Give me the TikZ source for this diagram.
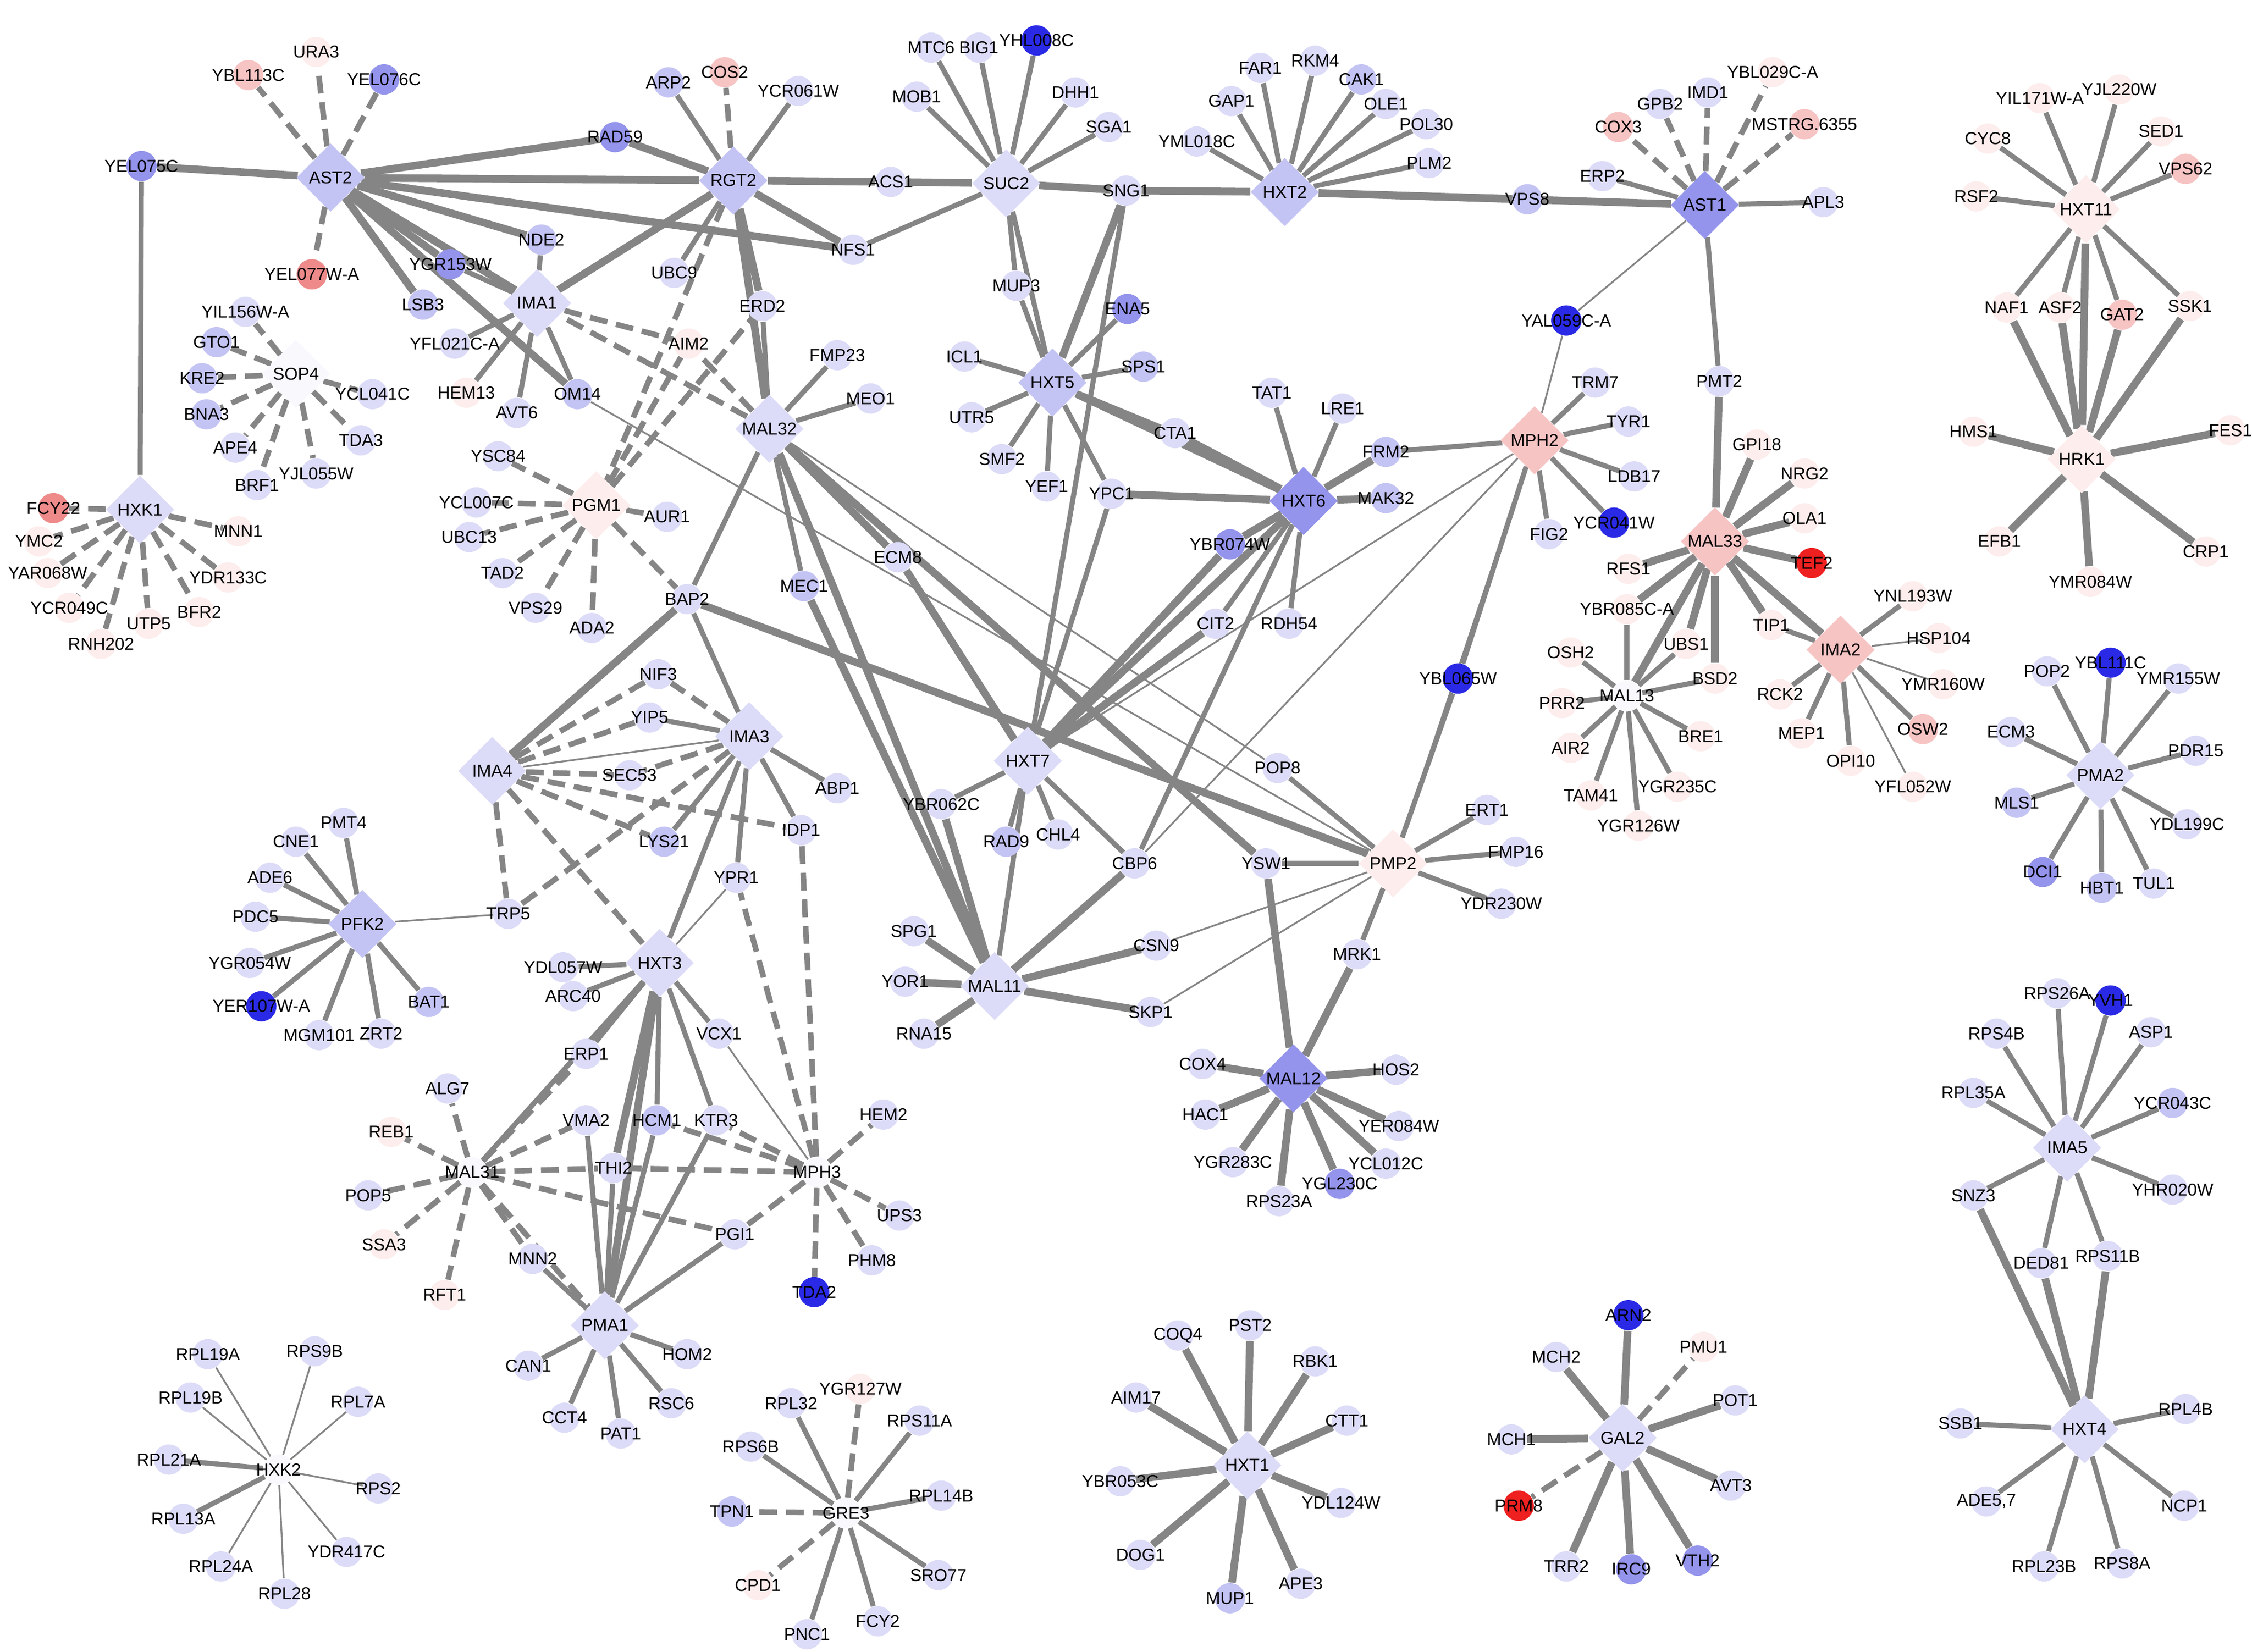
\documentclass[tikz,border=0pt]{standalone}
\usepackage{fontspec}
\setmainfont{Liberation Sans}
\usetikzlibrary{shapes.geometric,backgrounds}
\definecolor{b1}{HTML}{DCDCF8}\definecolor{b2}{HTML}{C4C4F4}\definecolor{b3}{HTML}{9494EC}
\definecolor{b4}{HTML}{2A2AE6}\definecolor{p1}{HTML}{FDEDED}\definecolor{p2}{HTML}{F7C4C4}
\definecolor{p3}{HTML}{EE8A8A}\definecolor{rr}{HTML}{EE2020}\definecolor{ww}{HTML}{F8F8FD}
\definecolor{eg}{HTML}{858585}
\tikzset{cn/.style={circle,draw=none,minimum size=0.42cm,inner sep=0pt},
 dm/.style={diamond,draw=none,minimum width=0.95cm,minimum height=0.95cm,inner sep=0pt},
 lb/.style={font=\fontsize{6.8}{7}\selectfont,inner sep=0pt,text=black},
 th/.style={eg,line width=3pt},md/.style={eg,line width=2pt},tn/.style={eg,line width=0.7pt},
 dt/.style={eg,line width=2.2pt,dash pattern=on 7pt off 3.5pt}}
\newcommand\Cn[5]{\node[cn,fill=#4,label={[lb]center:#5}] (#1) at (#2,#3) {};}
\newcommand\Dm[5]{\node[dm,fill=#4,label={[lb]center:#5}] (#1) at (#2,#3) {};}
\newcommand\Ed[3][md]{\foreach \t in {#3}{\draw[#1] (#2) -- (\t);}}
\begin{document}
\begin{tikzpicture}[x=0.02cm,y=-0.02cm]
\useasboundingbox (0,0) rectangle (1560,1144);
% ---- nodes
\Dm{AST2}{229}{123}{b2}{AST2}
\Cn{YEL075C}{98}{115}{b3}{YEL075C}\Cn{YBL113C}{172}{52}{p2}{YBL113C}\Cn{URA3}{219}{36}{p1}{URA3}
\Cn{YEL076C}{266}{55}{b3}{YEL076C}\Cn{RAD59}{426}{95}{b3}{RAD59}\Cn{YEL077WA}{216}{190}{p3}{YEL077W-A}
\Cn{NDE2}{375}{166}{b2}{NDE2}\Cn{YGR153W}{312}{183}{b3}{YGR153W}\Cn{LSB3}{293}{211}{b2}{LSB3}
\Dm{IMA1}{372}{210}{b1}{IMA1}\Cn{OM14}{400}{273}{b2}{OM14}\Dm{RGT2}{508}{125}{b2}{RGT2}
\Cn{NFS1}{591}{173}{b1}{NFS1}
\Dm{HXK1}{97}{353}{b1}{HXK1}
\Cn{FCY22}{37}{352}{p3}{FCY22}\Cn{YMC2}{27}{375}{p1}{YMC2}\Cn{YAR068W}{33}{397}{p1}{YAR068W}
\Cn{YCR049C}{48}{421}{p1}{YCR049C}\Cn{RNH202}{70}{446}{p1}{RNH202}\Cn{UTP5}{103}{432}{p1}{UTP5}
\Cn{BFR2}{138}{424}{p1}{BFR2}\Cn{YDR133C}{158}{400}{p1}{YDR133C}\Cn{MNN1}{165}{368}{p1}{MNN1}
\Dm{SOP4}{205}{259}{ww}{SOP4}
\Cn{YIL156WA}{170}{216}{b1}{YIL156W-A}\Cn{GTO1}{150}{237}{b2}{GTO1}\Cn{KRE2}{140}{262}{b2}{KRE2}
\Cn{BNA3}{143}{287}{b2}{BNA3}\Cn{APE4}{163}{310}{b1}{APE4}\Cn{BRF1}{178}{336}{b1}{BRF1}
\Cn{YJL055W}{219}{328}{b1}{YJL055W}\Cn{TDA3}{250}{305}{b1}{TDA3}\Cn{YCL041C}{258}{273}{b1}{YCL041C}
\Cn{ARP2}{463}{57}{b2}{ARP2}\Cn{COS2}{502}{50}{p2}{COS2}\Cn{YCR061W}{553}{63}{b1}{YCR061W}
\Cn{UBC9}{467}{189}{b1}{UBC9}\Cn{ERD2}{528}{212}{b1}{ERD2}\Cn{ACS1}{617}{126}{b1}{ACS1}
\Dm{SUC2}{697}{127}{b1}{SUC2}
\Cn{MTC6}{645}{33}{b1}{MTC6}\Cn{BIG1}{678}{33}{b1}{BIG1}\Cn{YHL008C}{718}{28}{b4}{YHL008C}
\Cn{DHH1}{745}{64}{b1}{DHH1}\Cn{SGA1}{768}{88}{b1}{SGA1}\Cn{MOB1}{635}{67}{b1}{MOB1}
\Cn{SNG1}{780}{132}{b1}{SNG1}\Cn{MUP3}{704}{198}{b1}{MUP3}
\Dm{HXT2}{890}{133}{b2}{HXT2}
\Cn{FAR1}{873}{47}{b1}{FAR1}\Cn{RKM4}{911}{42}{b1}{RKM4}\Cn{CAK1}{943}{55}{b2}{CAK1}
\Cn{GAP1}{853}{70}{b1}{GAP1}\Cn{OLE1}{960}{72}{b1}{OLE1}\Cn{POL30}{988}{86}{b1}{POL30}
\Cn{YML018C}{829}{98}{b1}{YML018C}\Cn{PLM2}{990}{113}{b1}{PLM2}\Cn{VPS8}{1058}{138}{b2}{VPS8}
\Dm{AST1}{1181}{142}{b3}{AST1}
\Cn{COX3}{1121}{88}{p2}{COX3}\Cn{GPB2}{1150}{72}{b1}{GPB2}\Cn{IMD1}{1183}{64}{b1}{IMD1}
\Cn{YBL029CA}{1228}{50}{p1}{YBL029C-A}\Cn{MSTRG}{1250}{86}{p2}{MSTRG.6355}\Cn{ERP2}{1110}{122}{b1}{ERP2}
\Cn{APL3}{1263}{140}{b1}{APL3}\Cn{YAL059CA}{1085}{222}{b4}{YAL059C-A}\Cn{PMT2}{1191}{264}{b1}{PMT2}
\Dm{HXT11}{1445}{145}{p1}{HXT11}
\Cn{YIL171WA}{1413}{68}{p1}{YIL171W-A}\Cn{YJL220W}{1468}{62}{p1}{YJL220W}\Cn{CYC8}{1377}{96}{p1}{CYC8}
\Cn{SED1}{1497}{91}{p1}{SED1}\Cn{RSF2}{1369}{136}{p1}{RSF2}\Cn{VPS62}{1514}{117}{p2}{VPS62}
\Cn{NAF1}{1390}{213}{p1}{NAF1}\Cn{ASF2}{1427}{213}{p1}{ASF2}\Cn{GAT2}{1470}{218}{p2}{GAT2}
\Cn{SSK1}{1517}{212}{p1}{SSK1}
\Dm{HRK1}{1442}{318}{p1}{HRK1}
\Cn{HMS1}{1367}{299}{p1}{HMS1}\Cn{FES1}{1545}{298}{p1}{FES1}\Cn{EFB1}{1385}{375}{p1}{EFB1}
\Cn{CRP1}{1528}{382}{p1}{CRP1}\Cn{YMR084W}{1448}{403}{p1}{YMR084W}
\Dm{PMA2}{1455}{537}{b1}{PMA2}
\Cn{POP2}{1418}{465}{b1}{POP2}\Cn{YBL111C}{1462}{459}{b4}{YBL111C}\Cn{YMR155W}{1509}{470}{b1}{YMR155W}
\Cn{ECM3}{1393}{507}{b1}{ECM3}\Cn{PDR15}{1521}{520}{b1}{PDR15}\Cn{MLS1}{1397}{556}{b2}{MLS1}
\Cn{YDL199C}{1515}{571}{b1}{YDL199C}\Cn{DCI1}{1415}{604}{b3}{DCI1}\Cn{HBT1}{1456}{615}{b2}{HBT1}
\Cn{TUL1}{1492}{612}{b1}{TUL1}
\Dm{IMA5}{1432}{795}{b1}{IMA5}
\Cn{RPS26A}{1425}{688}{b1}{RPS26A}\Cn{YVH1}{1462}{693}{b4}{YVH1}\Cn{RPS4B}{1383}{716}{b1}{RPS4B}
\Cn{ASP1}{1490}{715}{b1}{ASP1}\Cn{RPL35A}{1367}{757}{b1}{RPL35A}\Cn{YCR043C}{1505}{764}{b2}{YCR043C}
\Cn{SNZ3}{1367}{828}{b1}{SNZ3}\Cn{YHR020W}{1505}{824}{b1}{YHR020W}\Cn{DED81}{1414}{875}{b1}{DED81}
\Cn{RPS11B}{1460}{870}{b1}{RPS11B}
\Dm{HXT4}{1444}{990}{b1}{HXT4}
\Cn{SSB1}{1358}{986}{b1}{SSB1}\Cn{RPL4B}{1514}{976}{b1}{RPL4B}\Cn{ADE57}{1376}{1040}{b1}{ADE5,7}
\Cn{NCP1}{1513}{1043}{b1}{NCP1}\Cn{RPL23B}{1416}{1085}{b1}{RPL23B}\Cn{RPS8A}{1470}{1083}{b1}{RPS8A}
\Dm{MAL33}{1188}{375}{p2}{MAL33}
\Cn{GPI18}{1217}{308}{p1}{GPI18}\Cn{NRG2}{1250}{328}{p1}{NRG2}\Cn{OLA1}{1250}{359}{p1}{OLA1}
\Cn{TEF2}{1255}{390}{rr}{TEF2}\Cn{RFS1}{1128}{394}{p1}{RFS1}\Cn{UBS1}{1168}{446}{p1}{UBS1}
\Cn{TIP1}{1227}{433}{p1}{TIP1}\Cn{BSD2}{1188}{470}{p1}{BSD2}\Cn{YBR085CA}{1127}{422}{p1}{YBR085C-A}
\Dm{IMA2}{1275}{450}{p2}{IMA2}
\Cn{YNL193W}{1325}{413}{p1}{YNL193W}\Cn{HSP104}{1343}{442}{p1}{HSP104}\Cn{YMR160W}{1346}{474}{p1}{YMR160W}
\Cn{OSW2}{1332}{505}{p2}{OSW2}\Cn{YFL052W}{1325}{545}{p1}{YFL052W}\Cn{OPI10}{1282}{527}{p1}{OPI10}
\Cn{MEP1}{1248}{508}{p1}{MEP1}\Cn{RCK2}{1233}{481}{p1}{RCK2}
\Cn{MAL13}{1127}{482}{ww}{MAL13}
\Cn{OSH2}{1088}{452}{p1}{OSH2}\Cn{PRR2}{1082}{487}{p1}{PRR2}\Cn{AIR2}{1088}{518}{p1}{AIR2}
\Cn{TAM41}{1102}{551}{p1}{TAM41}\Cn{YGR126W}{1135}{572}{p1}{YGR126W}\Cn{YGR235C}{1162}{545}{p1}{YGR235C}
\Cn{BRE1}{1178}{510}{p1}{BRE1}
\Dm{MPH2}{1063}{305}{p2}{MPH2}
\Cn{TRM7}{1105}{265}{b1}{TRM7}\Cn{TYR1}{1128}{292}{b1}{TYR1}\Cn{LDB17}{1132}{330}{b1}{LDB17}
\Cn{YCR041W}{1118}{362}{b4}{YCR041W}\Cn{FIG2}{1073}{370}{b1}{FIG2}\Cn{YBL065W}{1010}{470}{b4}{YBL065W}
\Dm{HXT6}{903}{347}{b3}{HXT6}
\Cn{TAT1}{881}{272}{b1}{TAT1}\Cn{LRE1}{930}{283}{b1}{LRE1}\Cn{FRM2}{960}{313}{b2}{FRM2}
\Cn{MAK32}{960}{345}{b2}{MAK32}\Cn{YBR074W}{852}{377}{b3}{YBR074W}\Cn{CIT2}{842}{432}{b1}{CIT2}
\Cn{RDH54}{893}{432}{b1}{RDH54}\Cn{YPC1}{770}{342}{b1}{YPC1}\Cn{CTA1}{814}{300}{b1}{CTA1}
\Dm{HXT5}{729}{265}{b2}{HXT5}
\Cn{ENA5}{781}{214}{b3}{ENA5}\Cn{SPS1}{792}{254}{b2}{SPS1}\Cn{ICL1}{668}{247}{b1}{ICL1}
\Cn{UTR5}{673}{289}{b1}{UTR5}\Cn{SMF2}{694}{318}{b1}{SMF2}\Cn{YEF1}{725}{337}{b1}{YEF1}
\Dm{MAL32}{533}{297}{b1}{MAL32}
\Cn{FMP23}{580}{246}{b1}{FMP23}\Cn{MEO1}{603}{276}{b1}{MEO1}\Cn{AIM2}{477}{238}{p1}{AIM2}
\Cn{MEC1}{557}{406}{b2}{MEC1}\Cn{ECM8}{622}{386}{b1}{ECM8}
\Cn{YFL021CA}{315}{238}{b1}{YFL021C-A}\Cn{HEM13}{323}{272}{p1}{HEM13}\Cn{AVT6}{358}{286}{b1}{AVT6}
\Dm{PGM1}{413}{350}{p1}{PGM1}
\Cn{YSC84}{345}{316}{b1}{YSC84}\Cn{YCL007C}{330}{348}{b1}{YCL007C}\Cn{UBC13}{325}{372}{b1}{UBC13}
\Cn{TAD2}{348}{397}{b1}{TAD2}\Cn{VPS29}{371}{421}{b1}{VPS29}\Cn{ADA2}{410}{435}{b1}{ADA2}
\Cn{AUR1}{462}{358}{b1}{AUR1}\Cn{BAP2}{476}{415}{b1}{BAP2}
\Dm{IMA4}{341}{534}{b1}{IMA4}\Dm{IMA3}{519}{510}{b1}{IMA3}
\Cn{NIF3}{456}{467}{b1}{NIF3}\Cn{YIP5}{450}{497}{b1}{YIP5}\Cn{SEC53}{436}{537}{b1}{SEC53}
\Cn{LYS21}{460}{583}{b2}{LYS21}\Cn{TRP5}{352}{633}{b1}{TRP5}\Cn{IDP1}{555}{575}{b1}{IDP1}
\Cn{ABP1}{580}{546}{b1}{ABP1}\Cn{YPR1}{510}{608}{b1}{YPR1}
\Dm{HXT3}{457}{667}{b1}{HXT3}
\Dm{PFK2}{251}{640}{b2}{PFK2}
\Cn{PMT4}{238}{570}{b1}{PMT4}\Cn{CNE1}{205}{583}{b1}{CNE1}\Cn{ADE6}{187}{608}{b1}{ADE6}
\Cn{PDC5}{177}{635}{b1}{PDC5}\Cn{YGR054W}{173}{667}{b1}{YGR054W}\Cn{YER107WA}{181}{697}{b4}{YER107W-A}
\Cn{MGM101}{221}{717}{b1}{MGM101}\Cn{ZRT2}{264}{716}{b1}{ZRT2}\Cn{BAT1}{297}{694}{b2}{BAT1}
\Cn{YDL057W}{390}{670}{b1}{YDL057W}\Cn{ARC40}{397}{690}{b1}{ARC40}\Cn{ERP1}{406}{730}{b1}{ERP1}
\Cn{VCX1}{498}{716}{b1}{VCX1}
\Cn{MAL31}{327}{812}{ww}{MAL31}
\Cn{ALG7}{310}{754}{b1}{ALG7}\Cn{REB1}{271}{784}{p1}{REB1}\Cn{POP5}{255}{828}{b1}{POP5}
\Cn{SSA3}{266}{862}{p1}{SSA3}\Cn{RFT1}{308}{897}{p1}{RFT1}\Cn{MNN2}{369}{872}{b1}{MNN2}
\Cn{VMA2}{406}{776}{b1}{VMA2}\Cn{THI2}{425}{809}{b1}{THI2}
\Dm{PMA1}{419}{918}{b1}{PMA1}
\Cn{CAN1}{366}{946}{b1}{CAN1}\Cn{CCT4}{391}{982}{b1}{CCT4}\Cn{PAT1}{430}{993}{b1}{PAT1}
\Cn{RSC6}{465}{972}{b1}{RSC6}\Cn{HOM2}{476}{938}{b1}{HOM2}\Cn{HCM1}{455}{776}{b2}{HCM1}
\Cn{KTR3}{496}{776}{b1}{KTR3}\Cn{PGI1}{509}{855}{b1}{PGI1}
\Cn{MPH3}{566}{812}{ww}{MPH3}
\Cn{HEM2}{612}{772}{b1}{HEM2}\Cn{UPS3}{623}{842}{b1}{UPS3}\Cn{PHM8}{604}{873}{b1}{PHM8}
\Cn{TDA2}{564}{895}{b4}{TDA2}
\Dm{HXT7}{712}{527}{b1}{HXT7}
\Cn{YBR062C}{652}{557}{b1}{YBR062C}\Cn{RAD9}{697}{583}{b2}{RAD9}\Cn{CHL4}{733}{578}{b1}{CHL4}
\Cn{CBP6}{786}{598}{b1}{CBP6}
\Dm{MAL11}{689}{683}{b1}{MAL11}
\Cn{SPG1}{633}{645}{b1}{SPG1}\Cn{YOR1}{627}{680}{b1}{YOR1}\Cn{RNA15}{640}{716}{b1}{RNA15}
\Cn{CSN9}{801}{655}{b1}{CSN9}\Cn{SKP1}{797}{701}{b1}{SKP1}
\Cn{YSW1}{877}{598}{b1}{YSW1}\Cn{POP8}{885}{532}{b1}{POP8}
\Dm{PMP2}{965}{598}{p1}{PMP2}
\Cn{ERT1}{1030}{561}{b1}{ERT1}\Cn{FMP16}{1050}{590}{b1}{FMP16}\Cn{YDR230W}{1040}{626}{b1}{YDR230W}
\Cn{MRK1}{940}{661}{b1}{MRK1}
\Dm{MAL12}{896}{747}{b3}{MAL12}
\Cn{COX4}{833}{737}{b1}{COX4}\Cn{HAC1}{835}{772}{b1}{HAC1}\Cn{YGR283C}{854}{805}{b1}{YGR283C}
\Cn{RPS23A}{886}{832}{b1}{RPS23A}\Cn{YCL012C}{960}{806}{b1}{YCL012C}\Cn{YGL230C}{928}{820}{b3}{YGL230C}
\Cn{YER084W}{969}{780}{b1}{YER084W}\Cn{HOS2}{967}{741}{b1}{HOS2}
\Cn{HXK2}{193}{1018}{ww}{HXK2}
\Cn{RPL19A}{144}{938}{b1}{RPL19A}\Cn{RPS9B}{218}{936}{b1}{RPS9B}\Cn{RPL7A}{248}{971}{b1}{RPL7A}
\Cn{RPL19B}{132}{968}{b1}{RPL19B}\Cn{RPL21A}{117}{1011}{b1}{RPL21A}\Cn{RPS2}{262}{1031}{b1}{RPS2}
\Cn{RPL13A}{127}{1052}{b1}{RPL13A}\Cn{YDR417C}{240}{1075}{b1}{YDR417C}\Cn{RPL24A}{153}{1085}{b1}{RPL24A}
\Cn{RPL28}{197}{1104}{b1}{RPL28}
\Cn{GRE3}{586}{1048}{ww}{GRE3}
\Cn{YGR127W}{596}{962}{p1}{YGR127W}\Cn{RPL32}{548}{972}{b1}{RPL32}\Cn{RPS11A}{637}{984}{b1}{RPS11A}
\Cn{RPS6B}{520}{1002}{b1}{RPS6B}\Cn{RPL14B}{652}{1036}{b1}{RPL14B}\Cn{TPN1}{507}{1047}{b2}{TPN1}
\Cn{SRO77}{650}{1091}{b1}{SRO77}\Cn{CPD1}{525}{1098}{p1}{CPD1}\Cn{FCY2}{608}{1123}{b1}{FCY2}
\Cn{PNC1}{559}{1132}{b1}{PNC1}
\Dm{HXT1}{864}{1015}{b1}{HXT1}
\Cn{COQ4}{816}{925}{b1}{COQ4}\Cn{PST2}{866}{918}{b1}{PST2}\Cn{RBK1}{911}{943}{b1}{RBK1}
\Cn{AIM17}{787}{968}{b1}{AIM17}\Cn{CTT1}{933}{984}{b1}{CTT1}\Cn{YBR053C}{776}{1026}{b1}{YBR053C}
\Cn{YDL124W}{929}{1041}{b1}{YDL124W}\Cn{DOG1}{790}{1077}{b1}{DOG1}\Cn{APE3}{901}{1097}{b1}{APE3}
\Cn{MUP1}{852}{1107}{b2}{MUP1}
\Dm{GAL2}{1124}{996}{b1}{GAL2}
\Cn{ARN2}{1128}{911}{b4}{ARN2}\Cn{PMU1}{1180}{933}{p1}{PMU1}\Cn{MCH2}{1078}{940}{b1}{MCH2}
\Cn{POT1}{1202}{970}{b1}{POT1}\Cn{MCH1}{1047}{997}{b1}{MCH1}\Cn{AVT3}{1199}{1029}{b1}{AVT3}
\Cn{PRM8}{1052}{1043}{rr}{PRM8}\Cn{TRR2}{1085}{1085}{b1}{TRR2}\Cn{IRC9}{1130}{1087}{b3}{IRC9}
\Cn{VTH2}{1176}{1081}{b3}{VTH2}
% ---- edges
\begin{scope}[on background layer]
\Ed[th]{AST2}{RGT2,NFS1,IMA1,LSB3,YGR153W,RAD59,NDE2,OM14,YEL075C}
\Ed[dt]{AST2}{YBL113C,URA3,YEL076C,YEL077WA}
\Ed[md]{YEL075C}{HXK1}
\Ed[dt]{HXK1}{FCY22,YMC2,YAR068W,YCR049C,RNH202,UTP5,BFR2,YDR133C,MNN1}
\Ed[dt]{SOP4}{YIL156WA,GTO1,KRE2,BNA3,APE4,BRF1,YJL055W,TDA3,YCL041C}
\Ed[th]{RGT2}{ACS1,NFS1,IMA1,RAD59,ERD2,MAL32}
\Ed[md]{RGT2}{ARP2,YCR061W,UBC9}
\Ed[dt]{RGT2}{COS2,PGM1}
\Ed[th]{ACS1}{SUC2}
\Ed[md]{SUC2}{MTC6,BIG1,YHL008C,DHH1,SGA1,MOB1,MUP3,NFS1,HXT5}
\Ed[th]{SNG1}{SUC2,HXT2,HXT5}
\Ed[md]{SNG1}{HXT7}
\Ed[md]{HXT2}{FAR1,RKM4,CAK1,GAP1,OLE1,POL30,YML018C,PLM2}
\Ed[th]{HXT2}{VPS8,AST1}
\Ed[dt]{AST1}{COX3,GPB2,IMD1,YBL029CA,MSTRG}
\Ed[md]{AST1}{ERP2,APL3,VPS8,PMT2}
\Ed[tn]{AST1}{YAL059CA}
\Ed[th]{PMT2}{MAL33}
\Ed[md]{HXT11}{YIL171WA,YJL220W,CYC8,SED1,RSF2,VPS62,NAF1,ASF2,GAT2,SSK1}
\Ed[th]{HRK1}{NAF1,ASF2,GAT2,SSK1,HMS1,FES1,EFB1,CRP1,YMR084W,HXT11}
\Ed[md]{PMA2}{POP2,YBL111C,YMR155W,ECM3,PDR15,MLS1,YDL199C,DCI1,HBT1,TUL1}
\Ed[md]{IMA5}{RPS26A,YVH1,RPS4B,ASP1,RPL35A,YCR043C,SNZ3,YHR020W,DED81,RPS11B}
\Ed[th]{HXT4}{SNZ3,DED81,RPS11B}
\Ed[md]{HXT4}{SSB1,RPL4B,ADE57,NCP1,RPL23B,RPS8A}
\Ed[th]{MAL33}{GPI18,NRG2,OLA1,TEF2,RFS1,UBS1,TIP1,BSD2,IMA2,YBR085CA,MAL13}
\Ed[md]{IMA2}{YNL193W,OSW2,OPI10,MEP1,RCK2,TIP1}
\Ed[tn]{IMA2}{HSP104,YMR160W,YFL052W}
\Ed[md]{MAL13}{OSH2,PRR2,AIR2,TAM41,YGR126W,YGR235C,BRE1,BSD2,UBS1,YBR085CA}
\Ed[md]{MPH2}{TRM7,TYR1,LDB17,YCR041W,FIG2,FRM2,YBL065W}
\Ed[tn]{MPH2}{YAL059CA,PMP2,HXT7,CBP6}
\Ed[md]{YBL065W}{PMP2}
\Ed[th]{HXT6}{HXT5,HXT7,YBR074W,CTA1,YPC1,MAK32,FRM2}
\Ed[md]{HXT6}{TAT1,LRE1,CIT2,RDH54,CBP6}
\Ed[th]{HXT7}{CIT2,YBR074W,ECM8}
\Ed[md]{HXT7}{YPC1,YBR062C,RAD9,CHL4,CBP6,MAL11}
\Ed[md]{HXT5}{ENA5,SPS1,ICL1,UTR5,SMF2,YEF1,YPC1,CTA1,MUP3}
\Ed[md]{MAL32}{FMP23,MEO1,BAP2,MEC1,ERD2}
\Ed[th]{MAL32}{ECM8,MAL11,YSW1}
\Ed[tn]{MAL32}{POP8}
\Ed[dt]{MAL32}{AIM2,IMA1}
\Ed[th]{MEC1}{MAL11}
\Ed[md]{IMA1}{YFL021CA,HEM13,AVT6,OM14,NDE2,YGR153W}
\Ed[dt]{IMA1}{AIM2}
\Ed[dt]{PGM1}{AIM2,ERD2,YSC84,YCL007C,UBC13,TAD2,VPS29,ADA2,AUR1,BAP2}
\Ed[tn]{OM14}{PMP2}
\Ed[th]{BAP2}{IMA4,PMP2}
\Ed[md]{BAP2}{IMA3}
\Ed[tn]{IMA4}{IMA3}
\Ed[dt]{IMA4}{NIF3,YIP5,SEC53,LYS21,TRP5,HXT3,IDP1}
\Ed[dt]{IMA3}{SEC53,TRP5,NIF3}
\Ed[md]{IMA3}{YIP5,LYS21,IDP1,ABP1,HXT3,YPR1}
\Ed[tn]{YPR1}{HXT3}
\Ed[md]{PFK2}{PMT4,CNE1,ADE6,PDC5,YGR054W,YER107WA,MGM101,ZRT2,BAT1}
\Ed[tn]{PFK2}{TRP5}
\Ed[md]{HXT3}{YDL057W,ARC40,ERP1,VCX1,KTR3,HCM1,MAL31}
\Ed[th]{HXT3}{PMA1,THI2}
\Ed[dt]{MAL31}{ALG7,REB1,POP5,SSA3,RFT1,MNN2,VMA2,THI2,ERP1,PMA1,PGI1}
\Ed[md]{PMA1}{CAN1,CCT4,PAT1,RSC6,HOM2,MNN2,PGI1,THI2,VMA2,KTR3,HCM1}
\Ed[dt]{MPH3}{HEM2,UPS3,PHM8,TDA2,PGI1,KTR3,THI2,HCM1,IDP1,YPR1}
\Ed[tn]{MPH3}{VCX1}
\Ed[th]{MAL11}{SPG1,YOR1,RNA15,CSN9,SKP1,CBP6,YBR062C}
\Ed[tn]{PMP2}{CSN9,SKP1}
\Ed[th]{YSW1}{MAL12}
\Ed[md]{YSW1}{PMP2}
\Ed[md]{PMP2}{ERT1,FMP16,YDR230W,MRK1,POP8}
\Ed[th]{MAL12}{COX4,HAC1,YGR283C,RPS23A,YCL012C,YGL230C,YER084W,HOS2,MRK1}
\Ed[tn]{HXK2}{RPL19A,RPS9B,RPL7A,RPL19B,RPS2,YDR417C,RPL24A,RPL28}
\Ed[md]{HXK2}{RPL21A,RPL13A}
\Ed[md]{GRE3}{RPL32,RPS11A,RPL14B,SRO77,FCY2,PNC1,RPS6B}
\Ed[dt]{GRE3}{YGR127W,TPN1,CPD1}
\Ed[th]{HXT1}{COQ4,PST2,RBK1,AIM17,CTT1,YBR053C,YDL124W,DOG1,APE3,MUP1}
\Ed[th]{GAL2}{ARN2,MCH2,POT1,MCH1,AVT3,TRR2,IRC9,VTH2}
\Ed[dt]{GAL2}{PMU1,PRM8}
\end{scope}
\end{tikzpicture}
\end{document}
